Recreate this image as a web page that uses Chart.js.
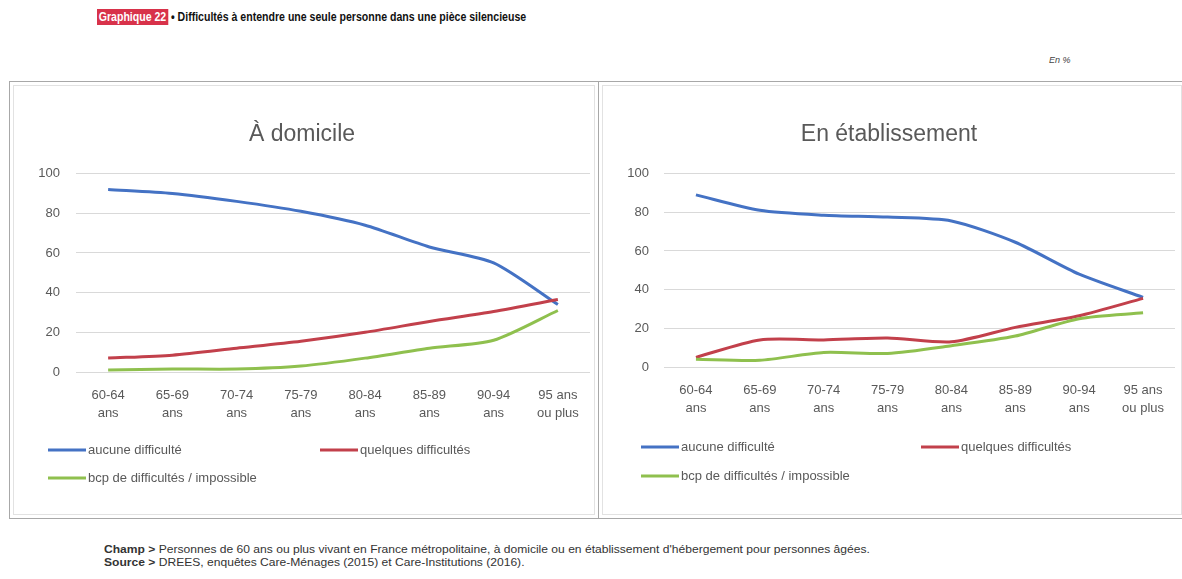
<!DOCTYPE html>
<html>
<head>
<meta charset="utf-8">
<script src="https://cdn.jsdelivr.net/npm/chart.js@4.4.1/dist/chart.umd.min.js"></script>
<style>
  body { margin: 0; background: #fff; width: 1182px; height: 579px; position: relative; overflow: hidden;
         font-family: "Liberation Sans", Arial, sans-serif; }
  .titre { position: absolute; left: 97px; top: 10px; font-size: 12px; font-weight: bold; color: #111; white-space: nowrap;
           transform: scaleX(0.88); transform-origin: left top; }
  .titre .num { background: #d8324a; color: #fff; padding: 1px 2px; }
  .unite { position: absolute; left: 1049px; top: 55px; font-size: 9px; font-style: italic; color: #444; }
  .cadre { position: absolute; left: 9px; top: 81px; width: 1172px; height: 436px; border: 1px solid #a8a8a8; border-right: none; }
  .sep { position: absolute; left: 598px; top: 81px; width: 1px; height: 437px; background: #a8a8a8; }
  .panel { position: absolute; top: 85px; height: 428px; border: 1px solid #e2e2e2; }
  #p1 { left: 13px; width: 580px; }
  #p2 { left: 602px; width: 578px; }
  .notes { position: absolute; left: 104px; top: 543px; font-size: 10.5px; color: #333; line-height: 13px; white-space: nowrap;
           transform: scaleX(1.15); transform-origin: left top; }
</style>
</head>
<body>
<div class="titre"><span class="num">Graphique 22</span> • Difficultés à entendre une seule personne dans une pièce silencieuse</div>
<div class="unite">En %</div>
<div class="cadre"></div>
<div class="sep"></div>
<div class="panel" id="p1"><canvas id="domicileChart"></canvas></div>
<div class="panel" id="p2"><canvas id="etabChart"></canvas></div>
<div class="notes"><b>Champ &gt;</b> Personnes de 60 ans ou plus vivant en France métropolitaine, à domicile ou en établissement d'hébergement pour personnes âgées.<br><b>Source &gt;</b> DREES, enquêtes Care-Ménages (2015) et Care-Institutions (2016).</div>

<script>
const ages = [["60-64", "ans"], ["65-69", "ans"], ["70-74", "ans"], ["75-79", "ans"],
              ["80-84", "ans"], ["85-89", "ans"], ["90-94", "ans"], ["95 ans", "ou plus"]];
const seriesNames = ["aucune difficulté", "quelques difficultés", "bcp de difficultés / impossible"];
const yTicks = [0, 20, 40, 60, 80, 100];

// À domicile
const domicileAucune   = [92, 90, 86, 81, 74, 63, 55, 34];
const domicileQuelques = [7, 8.5, 12, 15.5, 20, 25.5, 30.5, 36.5];
const domicileBcp      = [1, 1.5, 1.5, 3, 7, 12, 16, 31];

// En établissement
const etabAucune   = [89, 81, 78.5, 77.5, 75.5, 64.5, 48, 36];
const etabQuelques = [5, 14, 14, 15, 13, 20.5, 26.5, 35.5];
const etabBcp      = [4, 3.5, 7.5, 7, 11, 16, 25, 28];

const couleurs = ["#4472c4", "#c2404b", "#8fc04e"];
const police = '"Liberation Sans Narrow", "Liberation Sans", Arial, sans-serif';
const gris = "#595959";

// legende dessinee a la main (deux lignes comme dans Excel)
const legendeLignes = {
    id: "legendeLignes",
    afterDraw(chart, args, opts) {
        const ctx = chart.ctx;
        chart.data.datasets.forEach((ds, i) => {
            const it = opts.items[i];
            const y = chart.chartArea.bottom + it.dy;
            ctx.save();
            ctx.strokeStyle = ds.borderColor;
            ctx.lineWidth = 3;
            ctx.beginPath();
            ctx.moveTo(it.x, y);
            ctx.lineTo(it.x + opts.len, y);
            ctx.stroke();
            ctx.fillStyle = gris;
            ctx.font = "13px " + police;
            ctx.textBaseline = "middle";
            ctx.fillText(ds.label, it.x + opts.len + 2, y);
            ctx.restore();
        });
    }
};

function creerGraphique(id, titre, valeurs, reglages) {
    const ctx = document.getElementById(id).getContext("2d");
    return new Chart(ctx, {
        type: "line",
        data: {
            labels: ages,
            datasets: valeurs.map((v, i) => ({
                label: seriesNames[i],
                data: v,
                borderColor: couleurs[i],
                backgroundColor: "transparent",
                borderWidth: 3,
                pointRadius: 0,
                tension: 0.25
            })).reverse()
        },
        options: {
            responsive: true,
            maintainAspectRatio: false,
            animation: false,
            layout: { padding: { left: 0, right: reglages.droite, top: 0, bottom: reglages.bas } },
            plugins: {
                legend: { display: false },
                tooltip: { enabled: false },
                title: {
                    display: true,
                    text: titre,
                    color: gris,
                    font: { family: police, size: 23, weight: "normal" },
                    padding: { top: 35, bottom: 25 }
                },
                legendeLignes: reglages.legende
            },
            scales: {
                x: {
                    offset: true,
                    grid: { display: false, drawTicks: false },
                    border: { display: false },
                    ticks: { color: gris, font: { family: police, size: 13, lineHeight: 1.4 }, padding: 14, maxRotation: 0, autoSkip: false },
                    afterFit: s => { s.height = 60; }
                },
                y: {
                    min: 0,
                    max: 100,
                    afterBuildTicks: s => { s.ticks = yTicks.map(v => ({ value: v })); },
                    grid: { color: "#d9d9d9", drawTicks: false },
                    border: { display: false },
                    ticks: { color: gris, font: { family: police, size: 13 }, padding: reglages.padY },
                    afterFit: s => { s.width = reglages.largeurY; }
                }
            }
        },
        plugins: [legendeLignes]
    });
}

const itemsLegende = (x1, x2, d1, d2) => [
    { x: x1, dy: d1 }, { x: x2, dy: d1 }, { x: x1, dy: d2 }
];

creerGraphique("domicileChart", "À domicile",
    [domicileAucune, domicileQuelques, domicileBcp],
    { droite: 4, bas: 82, largeurY: 62, padY: 16,
      legende: { len: 38, items: itemsLegende(34, 306, 78, 106).reverse() } });

creerGraphique("etabChart", "En établissement",
    [etabAucune, etabQuelques, etabBcp],
    { droite: 6, bas: 87, largeurY: 61, padY: 15,
      legende: { len: 38, items: itemsLegende(38, 318, 80, 109).reverse() } });
</script>
</body>
</html>
